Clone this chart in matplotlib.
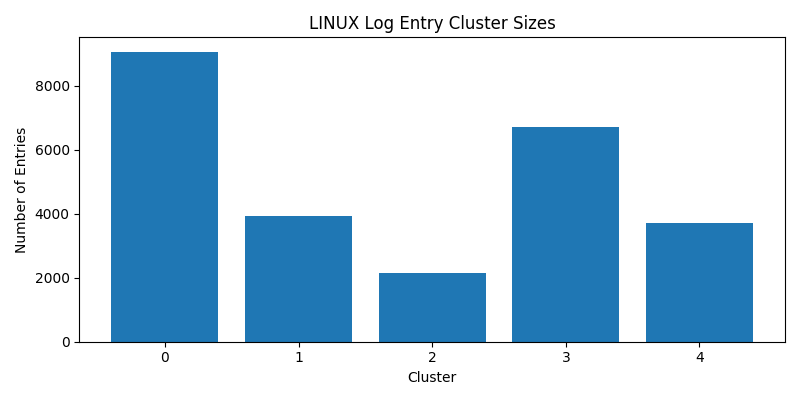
import matplotlib
matplotlib.use("Agg")
import matplotlib.pyplot as plt

clusters = [0, 1, 2, 3, 4]
entries = [9060, 3940, 2160, 6720, 3720]

fig = plt.figure(figsize=(8, 4))
plt.bar(clusters, entries)
plt.title("LINUX Log Entry Cluster Sizes")
plt.xlabel("Cluster")
plt.ylabel("Number of Entries")
plt.xticks(clusters)
plt.tight_layout()
plt.savefig("out.png", dpi=100)
